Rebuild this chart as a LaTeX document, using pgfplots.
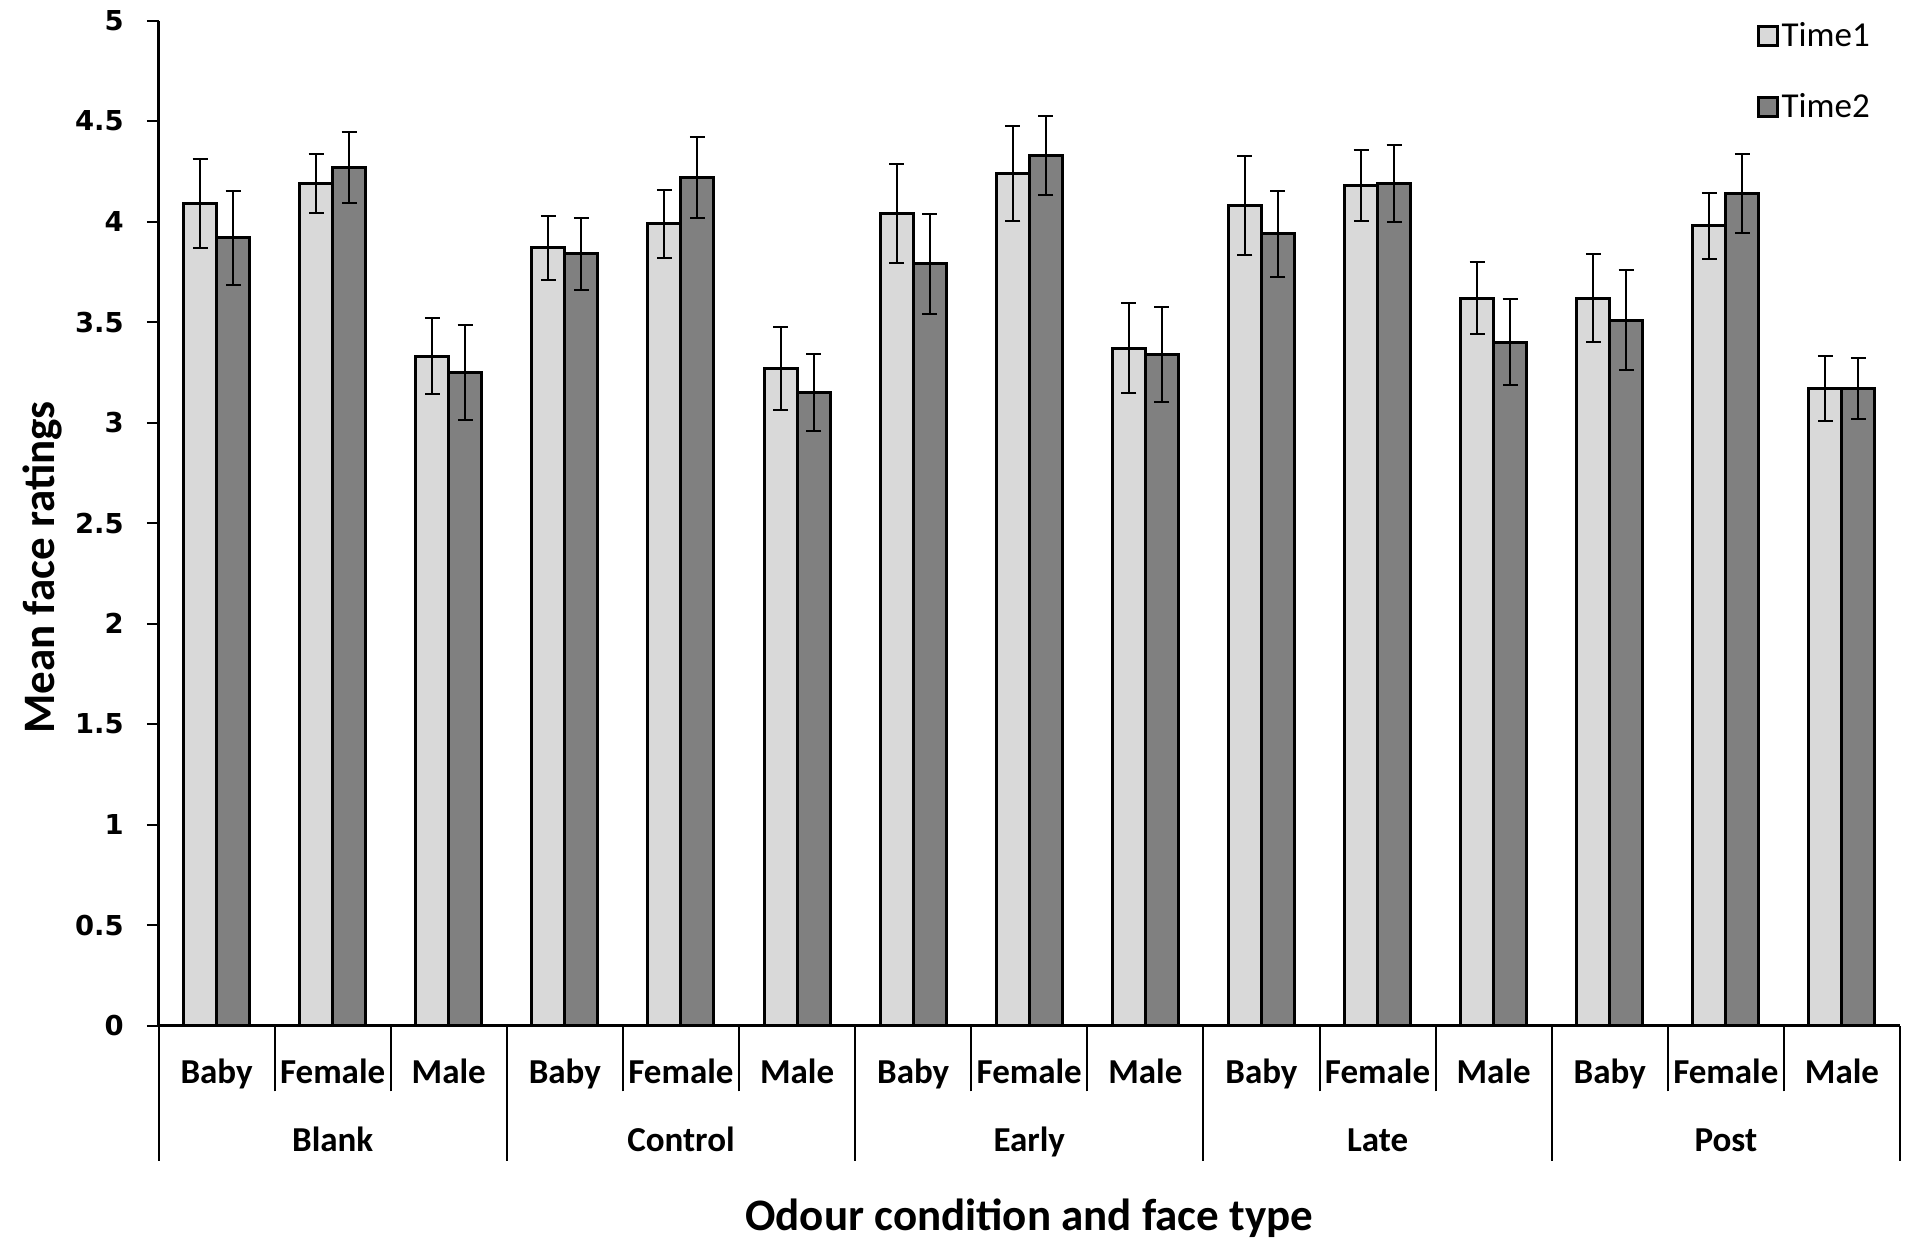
\documentclass[border=0pt]{standalone}
\usepackage{pgfplots}
\pgfplotsset{compat=1.18}
\usepackage{pgfplotstable}
\usepackage{fontspec}
\setmainfont{Carlito}
\newfontfamily\tickfont{DejaVu Sans}

\definecolor{timeone}{HTML}{D9D9D9}
\definecolor{timetwo}{HTML}{808080}

% mean rating and error for each odour condition x face type
\pgfplotstableread{
x  t1   e1    t2   e2
0  4.09 0.220 3.92 0.235
1  4.19 0.145 4.27 0.175
2  3.33 0.190 3.25 0.235
3  3.87 0.160 3.84 0.180
4  3.99 0.170 4.22 0.200
5  3.27 0.205 3.15 0.190
6  4.04 0.245 3.79 0.250
7  4.24 0.235 4.33 0.195
8  3.37 0.225 3.34 0.235
9  4.08 0.245 3.94 0.215
10 4.18 0.175 4.19 0.190
11 3.62 0.180 3.40 0.215
12 3.62 0.220 3.51 0.250
13 3.98 0.165 4.14 0.195
14 3.17 0.160 3.17 0.150
}\ratings

\tikzset{grouplabel/.style={font=\bfseries\fontsize{17.5}{20}\selectfont, anchor=base, yshift=-62.9pt}}

\begin{document}
\begin{tikzpicture}
\begin{axis}[
  name=ax,
  scale only axis, width=870.7pt, height=502.4pt,
  xmin=-0.5, xmax=14.5, ymin=0, ymax=5,
  clip=false,
  ybar, bar width=0.284,
  axis lines=left,
  axis line style={-, line width=1.3pt},
  tick align=outside,
  major tick length=5.8pt,
  minor tick length=32.9pt,
  tick style={line width=1pt, black},
  ytick={0,0.5,1,1.5,2,2.5,3,3.5,4,4.5,5},
  /pgf/number format/assume math mode=true,
  yticklabel style={font=\tickfont\bfseries\fontsize{13.7}{15}\selectfont, inner sep=1pt, xshift=-10.4pt},
  xtick={0,...,14},
  xticklabels={Baby,Female,Male,Baby,Female,Male,Baby,Female,Male,Baby,Female,Male,Baby,Female,Male},
  major x tick style={draw=none},
  minor xtick={-0.5,0.5,...,14.5},
  extra x ticks={-0.5,2.5,5.5,8.5,11.5,14.5},
  extra x tick labels={},
  extra x tick style={major tick length=67.7pt, major x tick style={draw=black, line width=1pt}},
  xticklabel style={font=\bfseries\fontsize{17.5}{20}\selectfont, anchor=base, yshift=-23.1pt},
  xlabel={Odour condition and face type},
  ylabel={Mean face ratings},
  every axis x label/.style={at={(axis description cs:0.5,0)}, anchor=base, yshift=-102.5pt,
    font=\bfseries\fontsize{22.5}{26}\selectfont},
  every axis y label/.style={at={(axis description cs:-0.0597,0.456)}, rotate=90, anchor=base,
    font=\bfseries\fontsize{22.5}{26}\selectfont},
  legend style={at={(axis description cs:0.9174,1.002)}, anchor=north west, draw=none, fill=none,
    font=\fontsize{17.5}{20}\selectfont, row sep=19.3pt, inner sep=0pt,
    nodes={inner sep=1.5pt}},
  legend cell align=left,
]
\addplot[bar shift=-0.142, fill=timeone, draw=black, line width=1.5pt,
  legend image code/.code={\draw[fill=timeone, draw=black, line width=1.5pt] (0pt,-4.75pt) rectangle (9.5pt,4.75pt);},
  error bars/.cd, y dir=both, y explicit,
  error bar style={line width=1pt, black},
  error mark options={rotate=90, line width=1pt, black, mark size=3.75pt}]
  table[x=x, y=t1, y error=e1] {\ratings};
\addplot[bar shift=0.142, fill=timetwo, draw=black, line width=1.5pt,
  legend image code/.code={\draw[fill=timetwo, draw=black, line width=1.5pt] (0pt,-4.75pt) rectangle (9.5pt,4.75pt);},
  error bars/.cd, y dir=both, y explicit,
  error bar style={line width=1pt, black},
  error mark options={rotate=90, line width=1pt, black, mark size=3.75pt}]
  table[x=x, y=t2, y error=e2] {\ratings};
\legend{Time1,Time2}

% odour condition names under each group of three face types
\node[grouplabel] at (axis cs:1,0) {Blank};
\node[grouplabel] at (axis cs:4,0) {Control};
\node[grouplabel] at (axis cs:7,0) {Early};
\node[grouplabel] at (axis cs:10,0) {Late};
\node[grouplabel] at (axis cs:13,0) {Post};
\end{axis}
\pgfresetboundingbox
\useasboundingbox ([xshift=-79.25pt,yshift=-107.25pt]ax.south west) rectangle ([xshift=6pt,yshift=10.35pt]ax.north east);
\end{tikzpicture}
\end{document}
